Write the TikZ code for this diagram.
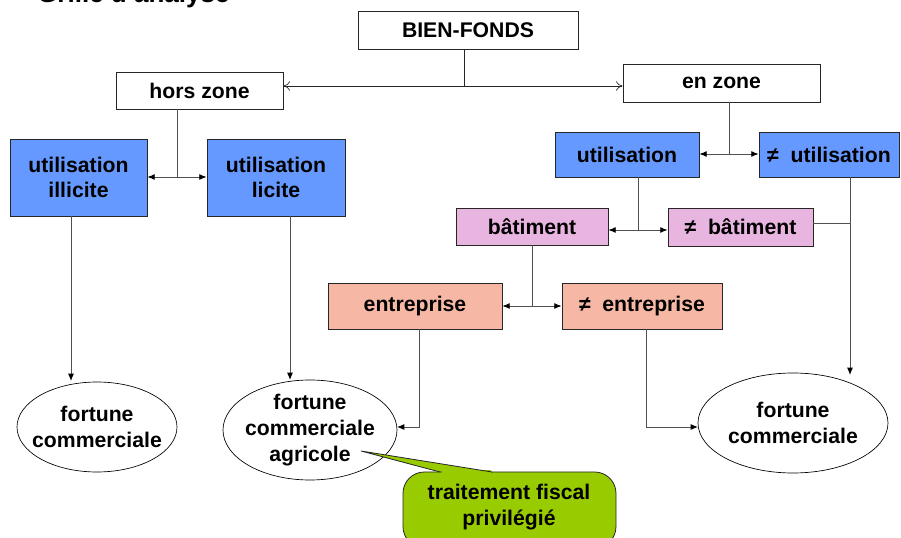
\documentclass[tikz,border=0pt]{standalone}
\usepackage{fontspec}
\setmainfont{Liberation Sans}
\usetikzlibrary{arrows.meta,shapes.geometric}
\definecolor{ublue}{HTML}{6699FF}
\definecolor{upink}{HTML}{E8B4E0}
\definecolor{usalmon}{HTML}{F6B8A5}
\definecolor{ugreen}{HTML}{99CC00}
\definecolor{uline}{HTML}{505050}
\begin{document}
\begin{tikzpicture}[x=0.75pt,y=-0.75pt,
  font=\fontsize{15.9}{19.2}\selectfont\bfseries,
  box/.style={draw=black!85, line width=0.6pt, inner sep=0pt, align=center},
  wbox/.style={box, fill=white},
  bbox/.style={box, fill=ublue},
  pbox/.style={box, fill=upink},
  sbox/.style={box, fill=usalmon},
  ell/.style={draw=black, line width=0.5pt, ellipse, fill=white, inner xsep=-30pt, inner ysep=-15pt, align=center},
  conn/.style={draw=uline, line width=0.7pt},
  arr/.style={conn, -{Latex[length=5.5pt,width=4.5pt,black]}},
  darr/.style={conn, {Latex[length=5.5pt,width=4.5pt,black]}-{Latex[length=5.5pt,width=4.5pt,black]}},
  oarr/.style={draw=black!85, line width=0.5pt, {To[length=5pt,width=7pt]}-{To[length=5pt,width=7pt]}}
]
\useasboundingbox (0,0) rectangle (901,538);

% title (clipped at top)
\node[anchor=base west, inner sep=0pt, font=\fontsize{19.5}{22}\selectfont\bfseries] (title) at (37,3) {Grille d'analyse};

% boxes
\node[wbox, minimum width=165pt, minimum height=28.5pt] (bf) at (468,30) {BIEN-FONDS};
\node[wbox, minimum width=125.25pt, minimum height=27.75pt] (hz) at (199.5,90.5) {hors zone};
\node[wbox, minimum width=147.75pt, minimum height=28.5pt] (ez) at (721.5,83) {en zone};
\node[bbox, minimum width=102.75pt, minimum height=57.75pt] (il) at (78.5,177.5) {utilisation\\illicite};
\node[bbox, minimum width=103.5pt, minimum height=57.75pt] (li) at (276,177.5) {utilisation\\licite};
\node[bbox, minimum width=108pt, minimum height=33.75pt] (ut) at (627,154.5) {utilisation};
\node[bbox, minimum width=105pt, minimum height=33.75pt] (nut) at (829,154.5) {≠~~utilisation};
\node[pbox, minimum width=114pt, minimum height=27.75pt] (bat) at (532,226.5) {bâtiment};
\node[pbox, minimum width=108.75pt, minimum height=28.5pt] (nbat) at (740.5,227) {≠~~bâtiment};
\node[sbox, minimum width=130.5pt, minimum height=34.5pt] (ent) at (415,306) {entreprise};
\node[sbox, minimum width=120pt, minimum height=34.5pt] (nent) at (642,306) {≠~~entreprise};

% ellipses
\node[ell, minimum width=120pt, minimum height=67.5pt] (e1) at (97,427) {fortune\\commerciale};
\node[ell, minimum width=130.5pt, minimum height=75pt] (e2) at (310,430) {fortune\\commerciale\\agricole};
\node[ell, minimum width=142.5pt, minimum height=75pt] (e3) at (793,423) {fortune\\commerciale};

% junction coordinates
\coordinate (j0) at (464,86);
\coordinate (j1) at (177,177);
\coordinate (j2) at (729,154);
\coordinate (j3) at (638,230);
\coordinate (j4) at (532,306);
\coordinate (j5) at (850,223);
\coordinate (t1) at (71,381);
\coordinate (t2) at (290,380);
\coordinate (t3) at (397,427);
\coordinate (c3) at (419,427);
\coordinate (t4) at (698,427);
\coordinate (c4) at (646,427);
\coordinate (t5) at (850,375);

% level 1
\draw[draw=black!85, line width=0.5pt] (j0 |- bf.south) -- (j0);
\draw[oarr] (hz.east |- j0) -- (ez.west |- j0);

% hors zone branch
\draw[conn] (j1 |- hz.south) -- (j1);
\draw[darr] (il.east |- j1) -- (li.west |- j1);
\draw[arr] (t1 |- il.south) -- (t1);
\draw[arr] (t2 |- li.south) -- (t2);

% en zone branch
\draw[conn] (j2 |- ez.south) -- (j2);
\draw[darr] (ut.east |- j2) -- (nut.west |- j2);
\draw[conn] (j3 |- ut.south) -- (j3);
\draw[darr] (bat.east |- j3) -- (nbat.west |- j3);
\draw[conn] (j4 |- bat.south) -- (j4);
\draw[darr] (ent.east |- j4) -- (nent.west |- j4);
\draw[arr] (t5 |- nut.south) -- (t5);
\draw[conn] (nbat.east |- j5) -- (j5);
\draw[arr] (c3 |- ent.south) -- (c3) -- (t3);
\draw[arr] (c4 |- nent.south) -- (c4) -- (t4);

% callout
\fill[ugreen] (440,472) -- (361,451) -- (492,472) -- cycle;
\draw[black!85, line width=0.6pt, fill=ugreen, rounded corners=16pt] (403,472) rectangle (616,548);
\fill[ugreen] (441.5,470.5) rectangle (490.5,474);
\draw[black!85, line width=0.6pt, line join=miter] (440,472) -- (361,451) -- (492,472);
\node[inner sep=0pt, align=center] (cal) at (509,507) {traitement fiscal\\privilégié};
\end{tikzpicture}
\end{document}
